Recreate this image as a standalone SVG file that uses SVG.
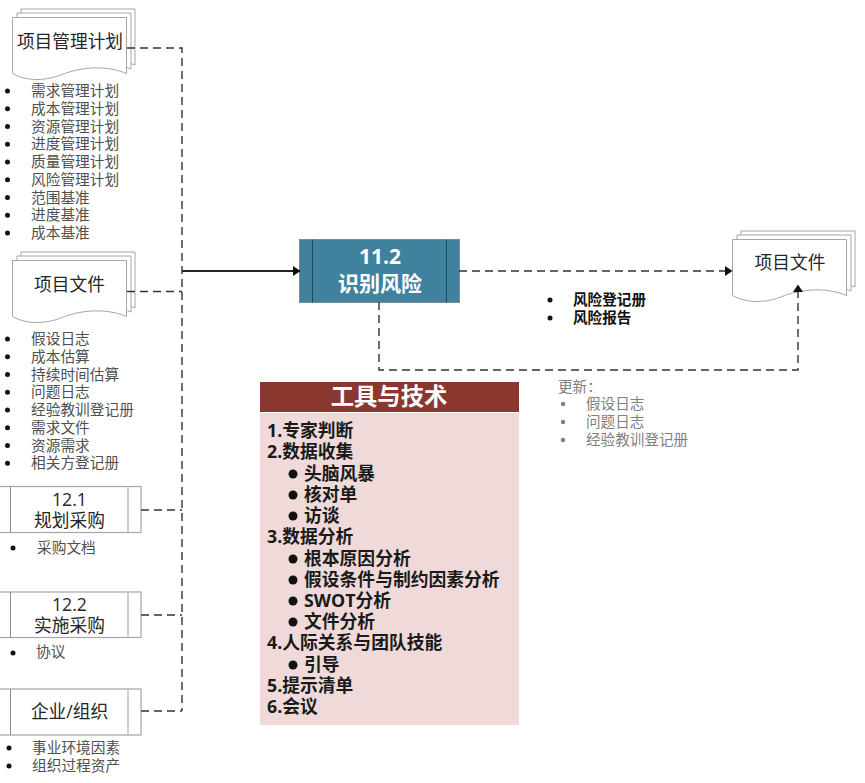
<svg xmlns="http://www.w3.org/2000/svg" width="865" height="783" viewBox="0 0 865 783">
<defs>
<style>
text{font-family:"Open Sans","Noto Sans CJK SC",sans-serif}
.doc{fill:#fff;stroke:#a6a6a6;stroke-width:1}
.proc{fill:#fff;stroke:#a6a6a6;stroke-width:1.2}
.t{font-size:17.7px;fill:#262626;text-anchor:middle}
.li{font-size:14.7px;fill:#505050}
.dot{fill:#111}
.sub{font-size:14.6px;fill:#7f7f7f}
.tool{font-size:17.8px;font-weight:700;fill:#1a1a1a}
.c{fill:none;stroke:#333;stroke-width:1.4;stroke-dasharray:8 5}
</style>
<marker id="a" markerWidth="9" markerHeight="11" refX="7" refY="5.500" orient="auto" markerUnits="userSpaceOnUse"><path d="M0 0.500L7.500 5.500L0 10.500Z" fill="#111"/></marker>
<path id="wave" d="M0 0H114V56C95 48 72 49 52 56C34 64 14 64 0 56Z"/>
</defs>
<rect width="865" height="783" fill="#fff"/>
<g id="doc-plan">
<use href="#wave" class="doc" x="21" y="9"/><use href="#wave" class="doc" x="17" y="13"/><use href="#wave" class="doc" x="12.500" y="17.500"/>
<text class="t" x="70" y="48">项目管理计划</text>
</g>
<g id="plan-list" class="li">
<circle class="dot" cx="7.500" cy="91" r="2.500"/><text x="31" y="96">需求管理计划</text>
<circle class="dot" cx="7.500" cy="108.800" r="2.500"/><text x="31" y="113.800">成本管理计划</text>
<circle class="dot" cx="7.500" cy="126.500" r="2.500"/><text x="31" y="131.500">资源管理计划</text>
<circle class="dot" cx="7.500" cy="144.300" r="2.500"/><text x="31" y="149.300">进度管理计划</text>
<circle class="dot" cx="7.500" cy="162" r="2.500"/><text x="31" y="167">质量管理计划</text>
<circle class="dot" cx="7.500" cy="179.800" r="2.500"/><text x="31" y="184.800">风险管理计划</text>
<circle class="dot" cx="7.500" cy="197.500" r="2.500"/><text x="31" y="202.500">范围基准</text>
<circle class="dot" cx="7.500" cy="215.300" r="2.500"/><text x="31" y="220.300">进度基准</text>
<circle class="dot" cx="7.500" cy="233" r="2.500"/><text x="31" y="238">成本基准</text>
</g>
<g id="doc-files">
<use href="#wave" class="doc" x="21" y="252"/><use href="#wave" class="doc" x="17" y="256"/><use href="#wave" class="doc" x="12.500" y="260.500"/>
<text class="t" x="69.500" y="291">项目文件</text>
</g>
<g id="files-list" class="li">
<circle class="dot" cx="7.500" cy="339" r="2.500"/><text x="31" y="344">假设日志</text>
<circle class="dot" cx="7.500" cy="356.800" r="2.500"/><text x="31" y="361.800">成本估算</text>
<circle class="dot" cx="7.500" cy="374.500" r="2.500"/><text x="31" y="379.500">持续时间估算</text>
<circle class="dot" cx="7.500" cy="392.300" r="2.500"/><text x="31" y="397.300">问题日志</text>
<circle class="dot" cx="7.500" cy="410" r="2.500"/><text x="31" y="415">经验教训登记册</text>
<circle class="dot" cx="7.500" cy="427.800" r="2.500"/><text x="31" y="432.800">需求文件</text>
<circle class="dot" cx="7.500" cy="445.500" r="2.500"/><text x="31" y="450.500">资源需求</text>
<circle class="dot" cx="7.500" cy="463.300" r="2.500"/><text x="31" y="468.300">相关方登记册</text>
</g>
<g id="proc-12-1">
<rect class="proc" x="-4" y="486.500" width="145" height="46"/>
<path d="M10.500 486.500V532.500" stroke="#8c8c8c"/><path d="M128 486.500V532.500" stroke="#bfbfbf" stroke-width="1.500"/>
<text class="t" x="69.500" y="505.500">12.1</text><text class="t" x="69.500" y="527">规划采购</text>
</g>
<g id="list-12-1" class="li"><circle class="dot" cx="13" cy="548" r="2.500"/><text x="37" y="553">采购文档</text></g>
<g id="proc-12-2">
<rect class="proc" x="-4" y="592" width="145" height="45.500"/>
<path d="M10.500 592V637.500" stroke="#8c8c8c"/><path d="M128 592V637.500" stroke="#bfbfbf" stroke-width="1.500"/>
<text class="t" x="69.500" y="610.500">12.2</text><text class="t" x="69.500" y="632">实施采购</text>
</g>
<g id="list-12-2" class="li"><circle class="dot" cx="13" cy="653" r="2.500"/><text x="36" y="657">协议</text></g>
<g id="proc-org">
<rect class="proc" x="-4" y="689" width="145" height="46"/>
<path d="M10.500 689V735" stroke="#8c8c8c"/><path d="M128 689V735" stroke="#bfbfbf" stroke-width="1.500"/>
<text class="t" x="69.500" y="718">企业/组织</text>
</g>
<g id="org-list" class="li">
<circle class="dot" cx="9" cy="748" r="2.500"/><text x="32" y="753">事业环境因素</text>
<circle class="dot" cx="9" cy="766" r="2.500"/><text x="32" y="771">组织过程资产</text>
</g>
<g id="proc-11-2">
<rect x="299.500" y="239.500" width="160" height="63" fill="#40829e" stroke="#7f8c92"/>
<path d="M312.500 239.500V302.500M446.500 239.500V302.500" stroke="#1f4a5c" stroke-width="1"/>
<text x="380" y="264" font-size="21" font-weight="700" fill="#fff" text-anchor="middle">11.2</text>
<text x="380" y="290.500" font-size="21" font-weight="700" fill="#fff" text-anchor="middle">识别风险</text>
</g>
<g id="doc-out">
<use href="#wave" class="doc" x="741" y="231"/><use href="#wave" class="doc" x="737" y="235"/><use href="#wave" class="doc" x="732.500" y="239.500"/>
<text class="t" x="790" y="269">项目文件</text>
</g>
<g id="out-list">
<circle class="dot" cx="550" cy="300" r="2.500"/><text x="573" y="305" font-size="14.600" font-weight="700" fill="#111">风险登记册</text>
<circle class="dot" cx="550" cy="318" r="2.500"/><text x="573" y="323" font-size="14.600" font-weight="700" fill="#111">风险报告</text>
</g>
<g id="update-list">
<text class="sub" x="558" y="392">更新：</text>
<circle cx="563" cy="404" r="2.200" fill="#7f7f7f"/><text class="sub" x="586" y="409">假设日志</text>
<circle cx="563" cy="422" r="2.200" fill="#7f7f7f"/><text class="sub" x="586" y="427">问题日志</text>
<circle cx="563" cy="440" r="2.200" fill="#7f7f7f"/><text class="sub" x="586" y="445">经验教训登记册</text>
</g>
<g id="tools">
<rect x="260" y="382" width="259" height="30" fill="#8a372f"/>
<text x="389" y="405" font-size="23.300" font-weight="700" fill="#fff" text-anchor="middle">工具与技术</text>
<rect x="260" y="413" width="259" height="312" fill="#efdad9"/>
<g class="tool">
<text x="267" y="437">1.专家判断</text>
<text x="267" y="458">2.数据收集</text>
<circle cx="293" cy="474" r="4.500" fill="#111"/><text x="304" y="480">头脑风暴</text>
<circle cx="293" cy="495" r="4.500" fill="#111"/><text x="304" y="501">核对单</text>
<circle cx="293" cy="516" r="4.500" fill="#111"/><text x="304" y="522">访谈</text>
<text x="267" y="543">3.数据分析</text>
<circle cx="293" cy="559" r="4.500" fill="#111"/><text x="304" y="565">根本原因分析</text>
<circle cx="293" cy="580" r="4.500" fill="#111"/><text x="304" y="586">假设条件与制约因素分析</text>
<circle cx="293" cy="601" r="4.500" fill="#111"/><text x="304" y="607">SWOT分析</text>
<circle cx="293" cy="622" r="4.500" fill="#111"/><text x="304" y="628">文件分析</text>
<text x="267" y="649">4.人际关系与团队技能</text>
<circle cx="293" cy="665" r="4.500" fill="#111"/><text x="304" y="671">引导</text>
<text x="267" y="692">5.提示清单</text>
<text x="267" y="713">6.会议</text>
</g>
</g>
<g id="connectors">
<path class="c" d="M127 48H182V711"/>
<path class="c" d="M127 291.500H182"/>
<path class="c" d="M141 510H182"/>
<path class="c" d="M141 615H182"/>
<path class="c" d="M141 711H182"/>
<path d="M182 271H300" fill="none" stroke="#222" stroke-width="1.800" marker-end="url(#a)"/>
<path class="c" d="M459 271H732" marker-end="url(#a)"/>
<path class="c" d="M379 302V370H798V285" marker-end="url(#a)"/>
</g>
</svg>
